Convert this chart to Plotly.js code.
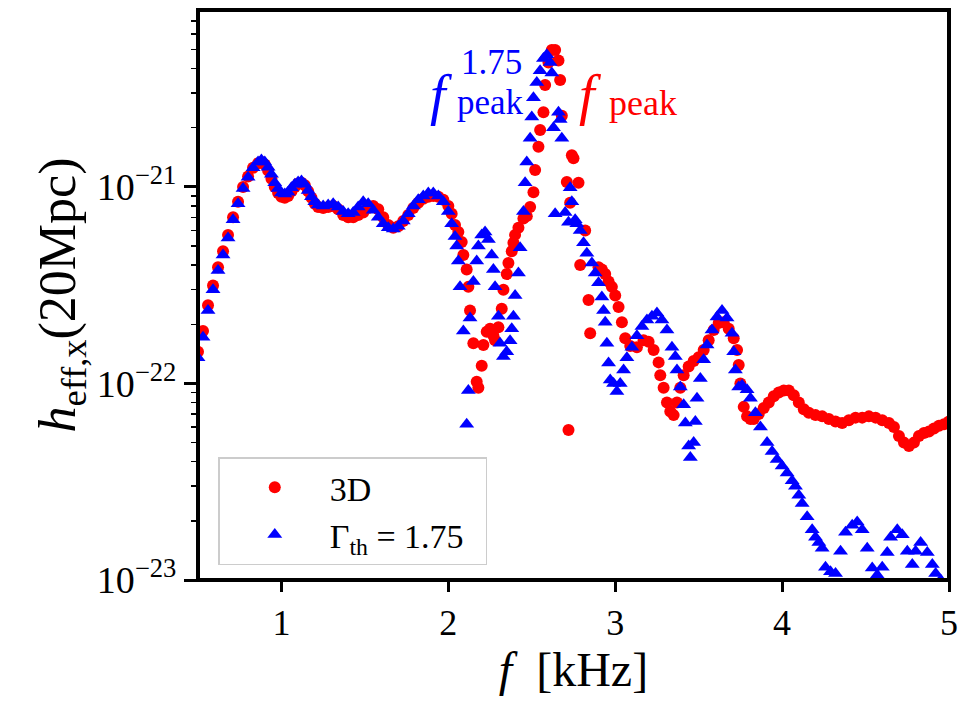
<!DOCTYPE html>
<html>
<head>
<meta charset="utf-8">
<script src="https://cdn.plot.ly/plotly-3.0.1.min.js"></script>
<style>html,body{margin:0;padding:0;background:#fff;}#chart{width:961px;height:709px;}</style>
</head>
<body>
<div id="chart"></div>
<script>
// frequencies in kHz, strain amplitude in units of 1e-22
const fRed = [0.50,0.53,0.56,0.59,0.62,0.65,0.68,0.71,0.74,0.77,0.80,0.83,0.86,0.88,0.90,0.92,0.94,0.96,0.98,1.00,1.02,1.04,1.06,1.08,1.10,1.12,1.14,1.16,1.18,1.20,1.22,1.25,1.28,1.31,1.34,1.37,1.40,1.43,1.46,1.49,1.52,1.55,1.58,1.61,1.64,1.67,1.70,1.73,1.76,1.79,1.82,1.85,1.88,1.91,1.94,1.97,2.00,2.02,2.04,2.06,2.08,2.09,2.11,2.12,2.13,2.15,2.17,2.18,2.20,2.21,2.23,2.25,2.27,2.28,2.30,2.32,2.33,2.35,2.36,2.38,2.39,2.40,2.42,2.45,2.47,2.49,2.51,2.52,2.54,2.55,2.57,2.58,2.60,2.62,2.64,2.66,2.67,2.68,2.71,2.72,2.73,2.74,2.75,2.78,2.79,2.82,2.84,2.85,2.90,2.92,2.94,2.96,2.98,3.00,3.02,3.04,3.06,3.09,3.13,3.17,3.20,3.23,3.26,3.27,3.29,3.31,3.33,3.35,3.37,3.39,3.41,3.44,3.47,3.50,3.53,3.56,3.59,3.62,3.65,3.68,3.71,3.73,3.74,3.75,3.77,3.79,3.81,3.83,3.86,3.89,3.92,3.95,3.98,4.01,4.04,4.07,4.10,4.13,4.16,4.20,4.24,4.28,4.32,4.36,4.40,4.44,4.48,4.52,4.56,4.60,4.64,4.67,4.70,4.73,4.76,4.79,4.82,4.85,4.88,4.91,4.94,4.97,5.00];
const hRed = [1.45,1.85,2.5,3.15,3.9,4.7,5.7,7.0,8.4,10.0,11.3,12.5,13.2,13.4,13.0,12.1,11.0,10.0,9.3,8.9,8.8,9.0,9.5,10.0,10.4,10.5,10.2,9.5,8.8,8.2,7.9,7.8,7.9,8.0,7.7,7.2,7.0,7.0,7.2,7.4,7.8,8.0,7.7,7.0,6.4,6.2,6.3,6.7,7.2,7.8,8.3,8.7,8.9,9.0,8.9,8.6,8.0,7.3,6.4,5.9,5.25,4.5,3.8,3.1,2.35,1.6,1.02,0.95,1.23,1.57,1.83,1.9,1.75,1.66,1.93,2.4,3.0,3.6,4.1,4.7,5.2,5.7,6.2,6.9,7.1,7.9,9.4,12.2,16,19.5,24,33,43,49.7,49.7,44,35,23,10.6,0.58,8.3,14.5,14.0,10.5,4.0,6.0,2.66,1.8,3.9,3.8,3.6,3.3,3.1,2.8,2.45,2.05,1.7,1.55,1.53,1.66,1.63,1.48,1.28,1.1,0.95,0.8,0.72,0.69,0.8,0.95,1.1,1.22,1.3,1.36,1.48,1.66,1.87,2.03,2.05,1.9,1.7,1.48,1.24,1.0,0.76,0.68,0.66,0.66,0.7,0.75,0.8,0.86,0.9,0.92,0.92,0.87,0.8,0.74,0.71,0.69,0.68,0.66,0.64,0.63,0.65,0.67,0.67,0.68,0.67,0.65,0.63,0.6,0.54,0.5,0.48,0.5,0.54,0.56,0.57,0.59,0.61,0.62,0.64];

const fBlue = [0.50,0.53,0.56,0.59,0.62,0.65,0.68,0.71,0.74,0.77,0.80,0.83,0.86,0.88,0.90,0.92,0.94,0.96,0.98,1.00,1.02,1.04,1.06,1.08,1.10,1.12,1.14,1.16,1.18,1.20,1.22,1.25,1.28,1.31,1.34,1.37,1.40,1.43,1.46,1.49,1.52,1.55,1.58,1.61,1.64,1.67,1.70,1.73,1.76,1.79,1.82,1.85,1.88,1.91,1.94,1.97,2.00,2.02,2.04,2.05,2.06,2.07,2.09,2.11,2.12,2.13,2.15,2.17,2.18,2.20,2.22,2.24,2.26,2.27,2.28,2.30,2.31,2.33,2.35,2.37,2.38,2.39,2.40,2.42,2.43,2.45,2.46,2.47,2.49,2.50,2.51,2.53,2.55,2.57,2.59,2.61,2.62,2.63,2.64,2.66,2.67,2.68,2.70,2.72,2.73,2.74,2.76,2.77,2.79,2.81,2.83,2.86,2.88,2.90,2.92,2.93,2.94,2.95,2.96,2.97,2.99,3.01,3.03,3.05,3.07,3.10,3.13,3.16,3.19,3.22,3.25,3.28,3.31,3.34,3.36,3.37,3.39,3.41,3.42,3.44,3.45,3.47,3.48,3.49,3.51,3.53,3.55,3.58,3.61,3.64,3.67,3.70,3.71,3.72,3.74,3.76,3.79,3.81,3.84,3.87,3.91,3.94,3.97,4.00,4.03,4.06,4.08,4.10,4.12,4.15,4.18,4.20,4.22,4.24,4.26,4.29,4.32,4.35,4.38,4.42,4.45,4.48,4.51,4.54,4.57,4.60,4.63,4.65,4.69,4.72,4.75,4.78,4.80,4.83,4.87,4.90,4.92,4.95];
const hBlue = [1.35,1.72,2.35,3.0,3.75,4.5,5.5,6.8,8.2,9.8,11.2,12.5,13.4,13.7,13.4,12.6,11.6,10.5,9.8,9.3,9.2,9.4,9.9,10.3,10.6,10.7,10.3,9.6,8.9,8.4,8.1,8.0,8.1,8.2,7.9,7.5,7.3,7.4,7.9,8.4,8.2,7.6,7.0,6.5,6.2,6.1,6.3,6.7,7.3,8.0,8.6,9.0,9.3,9.3,9.0,8.4,7.5,6.5,5.6,5.0,4.2,3.1,1.85,0.62,0.92,2.15,3.3,4.2,5.0,5.7,5.9,5.4,4.5,3.8,3.1,2.2,1.6,1.37,1.45,1.65,1.9,2.2,2.8,3.65,4.9,7.5,10.5,13.4,17.7,22.7,28.4,34,39,45,47,43,38,20,7.3,24,22,17.7,7.4,6.6,9.9,8.4,6.8,6.5,6.0,5.2,4.6,4.1,3.65,3.25,2.75,2.35,2.05,1.6,1.27,1.04,1.0,0.91,1.0,1.17,1.35,1.53,1.75,1.95,2.1,2.2,2.28,2.1,1.87,1.53,1.37,1.17,0.96,0.78,0.63,0.48,0.42,0.5,0.64,0.84,1.06,1.32,1.57,1.87,2.18,2.35,2.15,1.8,1.45,1.17,0.96,0.98,0.93,0.84,0.71,0.6,0.5,0.45,0.41,0.38,0.35,0.32,0.30,0.27,0.245,0.21,0.18,0.165,0.155,0.145,0.116,0.11,0.108,0.14,0.175,0.19,0.197,0.18,0.145,0.115,0.106,0.116,0.138,0.165,0.18,0.17,0.14,0.12,0.14,0.155,0.138,0.12,0.108,0.10];

const xTicks = [1,2,3,4,5];
const yTicks = [1e-23,1e-22,1e-21];
const yTickText = ['10<sup>−23</sup>','10<sup>−22</sup>','10<sup>−21</sup>'];
const yMinorTicks = [2e-23,3e-23,4e-23,5e-23,6e-23,7e-23,8e-23,9e-23,
                     2e-22,3e-22,4e-22,5e-22,6e-22,7e-22,8e-22,9e-22,
                     2e-21,3e-21,4e-21,5e-21,6e-21,7e-21];
const UNIT = 1e-22;

const FONT = 'Liberation Serif, Times New Roman, serif';

const traces = [
  {x: fRed, y: hRed.map(v => v*UNIT), type:'scatter', mode:'markers', name:'3D',
   marker:{symbol:'circle', size:12, color:'#ff0000'}},
  {x: fBlue, y: hBlue.map(v => v*UNIT), type:'scatter', mode:'markers', name:'Γ<sub>th</sub> = 1.75  ',
   marker:{symbol:'triangle-up', size:13, color:'#0000ff'}}
];

function px(x){return (x-198)/751;}
function py(y){return (580-y)/570;}

const layout = {
  width:961, height:709,
  margin:{l:198, r:12, t:10, b:129},
  paper_bgcolor:'#fff', plot_bgcolor:'#fff',
  font:{family:FONT, color:'#000', size:30},
  showlegend:true,
  legend:{x:0.027, y:0.026, xanchor:'left', yanchor:'bottom',
    bgcolor:'rgba(255,255,255,0.8)', bordercolor:'#cccccc', borderwidth:1.5,
    font:{family:FONT, size:34, color:'#000'}, itemwidth:100},
  xaxis:{range:[0.5,5], tickvals:xTicks, ticktext:xTicks.map(String),
    showline:false, mirror:false,
    ticks:'outside', ticklen:11, tickwidth:3, tickcolor:'#000',
    showgrid:false, zeroline:false, tickfont:{size:36, family:FONT},
    title:{text:'<i>f</i>  [kHz]', font:{size:48, family:FONT}, standoff:6}},
  yaxis:{type:'log', range:[-23,-20.1], tickvals:yTicks, ticktext:yTickText,
    showline:false, mirror:false,
    ticks:'outside', ticklen:13, tickwidth:3, tickcolor:'#000',
    minor:{ticks:'outside', ticklen:6, tickwidth:1.5, tickcolor:'#000', showgrid:false,
           tickmode:'array', tickvals:yMinorTicks},
    showgrid:false, zeroline:false, tickfont:{size:38, family:FONT},
    title:{text:'<i>h</i><sub>eff,x</sub>(20Mpc)', font:{size:52, family:FONT}, standoff:4}},
  shapes:[
    {type:'rect', xref:'paper', yref:'paper', x0:0, x1:1, y0:0, y1:1,
     line:{color:'#000', width:4}, fillcolor:'rgba(0,0,0,0)', layer:'above'}
  ],
  annotations:[
    {xref:'paper', yref:'paper', x:px(428), y:py(62), text:'<i>f</i>', showarrow:false,
     font:{size:56, color:'#0000ff', family:FONT}},
    {xref:'paper', yref:'paper', x:px(491), y:py(41), text:'1.75', showarrow:false,
     font:{size:35, color:'#0000ff', family:FONT}},
    {xref:'paper', yref:'paper', x:px(490), y:py(81), text:'peak', showarrow:false,
     font:{size:35, color:'#0000ff', family:FONT}},
    {xref:'paper', yref:'paper', x:px(590), y:py(62), text:'<i>f</i>', showarrow:false,
     font:{size:56, color:'#ff0000', family:FONT}},
    {xref:'paper', yref:'paper', x:px(643), y:py(81), text:'peak', showarrow:false,
     font:{size:36, color:'#ff0000', family:FONT}}
  ]
};

Plotly.newPlot('chart', traces, layout, {staticPlot:true, displayModeBar:false});
</script>
</body>
</html>
